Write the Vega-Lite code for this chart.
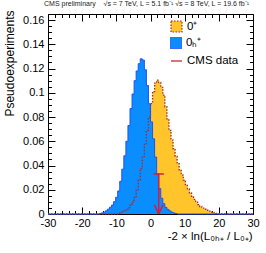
{
  "$schema": "https://vega.github.io/schema/vega-lite/v6.json",
  "width": 205,
  "height": 200,
  "autosize": {"type": "none"},
  "padding": {"left": 48, "top": 14, "right": 13, "bottom": 39},
  "background": "white",
  "config": {"view": {"stroke": null}, "font": "Liberation Sans"},
  "title": {"text": "CMS preliminary \u00a0\u00a0\u00a0√s = 7 TeV, L = 5.1 fb⁻¹ √s = 8 TeV, L = 19.6 fb⁻¹", "fontSize": 7, "font": "Liberation Sans", "fontWeight": "normal", "color": "#222", "anchor": "middle", "offset": 3, "dx": -4},
  "datasets": {
    "hist": [
      {"s": "0⁺", "x": -30, "y": 0},
      {"s": "0⁺", "x": -9.6, "y": 0.0003},
      {"s": "0⁺", "x": -9.0, "y": 0.0008},
      {"s": "0⁺", "x": -8.4, "y": 0.0015},
      {"s": "0⁺", "x": -7.8, "y": 0.0026},
      {"s": "0⁺", "x": -7.2, "y": 0.0038},
      {"s": "0⁺", "x": -6.6, "y": 0.0053},
      {"s": "0⁺", "x": -6.0, "y": 0.0073},
      {"s": "0⁺", "x": -5.4, "y": 0.0098},
      {"s": "0⁺", "x": -4.8, "y": 0.0135},
      {"s": "0⁺", "x": -4.2, "y": 0.0195},
      {"s": "0⁺", "x": -3.6, "y": 0.028},
      {"s": "0⁺", "x": -3.0, "y": 0.0375},
      {"s": "0⁺", "x": -2.4, "y": 0.0475},
      {"s": "0⁺", "x": -1.8, "y": 0.058},
      {"s": "0⁺", "x": -1.2, "y": 0.069},
      {"s": "0⁺", "x": -0.6, "y": 0.08},
      {"s": "0⁺", "x": 0.0, "y": 0.091},
      {"s": "0⁺", "x": 0.6, "y": 0.101},
      {"s": "0⁺", "x": 1.2, "y": 0.108},
      {"s": "0⁺", "x": 1.8, "y": 0.1105},
      {"s": "0⁺", "x": 2.4, "y": 0.1085},
      {"s": "0⁺", "x": 3.0, "y": 0.1045},
      {"s": "0⁺", "x": 3.6, "y": 0.098},
      {"s": "0⁺", "x": 4.2, "y": 0.0885},
      {"s": "0⁺", "x": 4.8, "y": 0.0785},
      {"s": "0⁺", "x": 5.4, "y": 0.069},
      {"s": "0⁺", "x": 6.0, "y": 0.061},
      {"s": "0⁺", "x": 6.6, "y": 0.054},
      {"s": "0⁺", "x": 7.2, "y": 0.0475},
      {"s": "0⁺", "x": 7.8, "y": 0.0415},
      {"s": "0⁺", "x": 8.4, "y": 0.0365},
      {"s": "0⁺", "x": 9.0, "y": 0.032},
      {"s": "0⁺", "x": 9.6, "y": 0.028},
      {"s": "0⁺", "x": 10.2, "y": 0.0242},
      {"s": "0⁺", "x": 10.8, "y": 0.0207},
      {"s": "0⁺", "x": 11.4, "y": 0.0175},
      {"s": "0⁺", "x": 12.0, "y": 0.0146},
      {"s": "0⁺", "x": 12.6, "y": 0.012},
      {"s": "0⁺", "x": 13.2, "y": 0.0097},
      {"s": "0⁺", "x": 13.8, "y": 0.0078},
      {"s": "0⁺", "x": 14.4, "y": 0.0062},
      {"s": "0⁺", "x": 15.0, "y": 0.0049},
      {"s": "0⁺", "x": 15.6, "y": 0.0039},
      {"s": "0⁺", "x": 16.2, "y": 0.0031},
      {"s": "0⁺", "x": 16.8, "y": 0.0024},
      {"s": "0⁺", "x": 17.4, "y": 0.0018},
      {"s": "0⁺", "x": 18.0, "y": 0.0013},
      {"s": "0⁺", "x": 18.6, "y": 0.0009},
      {"s": "0⁺", "x": 19.2, "y": 0.0005},
      {"s": "0⁺", "x": 19.8, "y": 0.0002},
      {"s": "0⁺", "x": 20.4, "y": 0},
      {"s": "0⁺", "x": 30, "y": 0},
      {"s": "0ₕ⁺", "x": -30, "y": 0},
      {"s": "0ₕ⁺", "x": -15.0, "y": 0.0004},
      {"s": "0ₕ⁺", "x": -14.4, "y": 0.0009},
      {"s": "0ₕ⁺", "x": -13.8, "y": 0.0015},
      {"s": "0ₕ⁺", "x": -13.2, "y": 0.0026},
      {"s": "0ₕ⁺", "x": -12.6, "y": 0.004},
      {"s": "0ₕ⁺", "x": -12.0, "y": 0.0056},
      {"s": "0ₕ⁺", "x": -11.4, "y": 0.0074},
      {"s": "0ₕ⁺", "x": -10.8, "y": 0.0102},
      {"s": "0ₕ⁺", "x": -10.2, "y": 0.0138},
      {"s": "0ₕ⁺", "x": -9.6, "y": 0.019},
      {"s": "0ₕ⁺", "x": -9.0, "y": 0.027},
      {"s": "0ₕ⁺", "x": -8.4, "y": 0.037},
      {"s": "0ₕ⁺", "x": -7.8, "y": 0.048},
      {"s": "0ₕ⁺", "x": -7.2, "y": 0.06},
      {"s": "0ₕ⁺", "x": -6.6, "y": 0.073},
      {"s": "0ₕ⁺", "x": -6.0, "y": 0.087},
      {"s": "0ₕ⁺", "x": -5.4, "y": 0.099},
      {"s": "0ₕ⁺", "x": -4.8, "y": 0.11},
      {"s": "0ₕ⁺", "x": -4.2, "y": 0.118},
      {"s": "0ₕ⁺", "x": -3.6, "y": 0.124},
      {"s": "0ₕ⁺", "x": -3.0, "y": 0.128},
      {"s": "0ₕ⁺", "x": -2.4, "y": 0.127},
      {"s": "0ₕ⁺", "x": -1.8, "y": 0.119},
      {"s": "0ₕ⁺", "x": -1.2, "y": 0.106},
      {"s": "0ₕ⁺", "x": -0.6, "y": 0.091},
      {"s": "0ₕ⁺", "x": 0.0, "y": 0.076},
      {"s": "0ₕ⁺", "x": 0.6, "y": 0.062},
      {"s": "0ₕ⁺", "x": 1.2, "y": 0.047},
      {"s": "0ₕ⁺", "x": 1.8, "y": 0.033},
      {"s": "0ₕ⁺", "x": 2.4, "y": 0.021},
      {"s": "0ₕ⁺", "x": 3.0, "y": 0.013},
      {"s": "0ₕ⁺", "x": 3.6, "y": 0.0085},
      {"s": "0ₕ⁺", "x": 4.2, "y": 0.0055},
      {"s": "0ₕ⁺", "x": 4.8, "y": 0.0038},
      {"s": "0ₕ⁺", "x": 5.4, "y": 0.0025},
      {"s": "0ₕ⁺", "x": 6.0, "y": 0.0015},
      {"s": "0ₕ⁺", "x": 6.6, "y": 0.0009},
      {"s": "0ₕ⁺", "x": 7.2, "y": 0.0004},
      {"s": "0ₕ⁺", "x": 7.8, "y": 0},
      {"s": "0ₕ⁺", "x": 30, "y": 0}
    ],
    "arrow": [
      {"s": "CMS data", "x": 2.4, "y": 0.033, "x2": 2.4, "y2": 0},
      {"s": "CMS data", "x": 0.9, "y": 0.033, "x2": 3.9, "y2": 0.033},
      {"s": "CMS data", "x": 1.15, "y": 0.0075, "x2": 2.4, "y2": 0},
      {"s": "CMS data", "x": 3.65, "y": 0.0075, "x2": 2.4, "y2": 0}
    ]
  },
  "layer": [
    {
      "layer": [
        {
          "data": {"name": "hist"},
          "transform": [{"filter": "datum.s === '0⁺'"}],
          "mark": {"type": "area", "interpolate": "step-after", "opacity": 1},
          "encoding": {
            "x": {"field": "x", "type": "quantitative"},
            "y": {"field": "y", "type": "quantitative"},
            "fill": {
              "field": "s", "type": "nominal",
              "scale": {"domain": ["0⁺"], "range": ["#ffc52a"]},
              "legend": {
                "title": null, "orient": "none", "legendX": 122, "legendY": 6, "padding": 0,
                "symbolType": "square", "symbolSize": 121, "symbolFillColor": "#ffc52a", "symbolStrokeColor": "#a52a2a", "symbolStrokeWidth": 1.2, "symbolDash": [1.5, 1.5], "symbolOpacity": 1,
                "labelFontSize": 11.5, "labelFont": "Liberation Sans", "labelColor": "black", "labelOffset": 4
              }
            }
          }
        },
        {
          "data": {"name": "hist"},
          "transform": [{"filter": "datum.s === '0ₕ⁺'"}],
          "mark": {"type": "area", "interpolate": "step-after", "opacity": 1},
          "encoding": {
            "x": {"field": "x", "type": "quantitative"},
            "y": {"field": "y", "type": "quantitative"},
            "color": {
              "field": "s", "type": "nominal",
              "scale": {"domain": ["0ₕ⁺"], "range": ["#0a8dff"]},
              "legend": {
                "title": null, "orient": "none", "legendX": 122, "legendY": 23, "padding": 0,
                "symbolType": "square", "symbolSize": 121, "symbolFillColor": "#0a8dff", "symbolStrokeColor": "#1f4fff", "symbolStrokeWidth": 1, "symbolDash": [1, 0], "symbolOpacity": 1,
                "labelFontSize": 11.5, "labelFont": "Liberation Sans", "labelColor": "black", "labelOffset": 4
              }
            }
          }
        },
        {
          "data": {"name": "hist"},
          "transform": [{"filter": "datum.s === '0⁺'"}],
          "mark": {"type": "line", "interpolate": "step-after", "stroke": "#a52a2a", "strokeWidth": 1.3, "strokeDash": [1.5, 1.5]},
          "encoding": {
            "x": {"field": "x", "type": "quantitative"},
            "y": {"field": "y", "type": "quantitative"}
          }
        },
        {
          "data": {"name": "hist"},
          "transform": [{"filter": "datum.s === '0ₕ⁺'"}],
          "mark": {"type": "line", "interpolate": "step-after", "stroke": "#1f4fff", "strokeWidth": 1},
          "encoding": {
            "x": {"field": "x", "type": "quantitative"},
            "y": {"field": "y", "type": "quantitative"}
          }
        },
        {
          "data": {"name": "arrow"},
          "mark": {"type": "rule", "strokeWidth": 1.5},
          "encoding": {
            "x": {"field": "x", "type": "quantitative"},
            "y": {"field": "y", "type": "quantitative"},
            "x2": {"field": "x2"},
            "y2": {"field": "y2"},
            "stroke": {
              "field": "s", "type": "nominal",
              "scale": {"domain": ["CMS data"], "range": ["#d41f35"]},
              "legend": {
                "title": null, "orient": "none", "legendX": 122, "legendY": 40.5, "padding": 0,
                "symbolType": "stroke", "symbolSize": 121, "symbolStrokeWidth": 1.3, "symbolOpacity": 1,
                "labelFontSize": 11.5, "labelFont": "Liberation Sans", "labelColor": "black", "labelOffset": 4
              }
            }
          }
        }
      ],
      "encoding": {
        "x": {
          "field": "x", "type": "quantitative",
          "scale": {"domain": [-30, 30], "nice": false, "zero": false},
          "axis": {
            "orient": "bottom", "grid": false,
            "values": [-30,-28,-26,-24,-22,-20,-18,-16,-14,-12,-10,-8,-6,-4,-2,0,2,4,6,8,10,12,14,16,18,20,22,24,26,28,30],
            "labelExpr": "datum.value % 10 === 0 ? '' + datum.value : ''",
            "tickSize": {"condition": {"test": "datum.value % 10 === 0", "value": -7}, "value": -3.5},
            "tickColor": "black", "domainColor": "black", "labelColor": "black",
            "labelFont": "Liberation Sans", "labelFontSize": 11, "labelPadding": 10, "labelFlush": false, "labelOverlap": false,
            "title": "-2 × ln(L₀ₕ₊ / L₀₊)", "titleFont": "Liberation Sans", "titleFontSize": 11.5, "titleFontWeight": "normal", "titleColor": "black",
            "titleAnchor": null, "titleAlign": "right", "titleBaseline": "middle", "titleX": 204, "titleY": 22
          }
        },
        "y": {
          "field": "y", "type": "quantitative",
          "scale": {"domain": [0, 0.165], "nice": false},
          "axis": {
            "orient": "left", "grid": false,
            "values": [0,0.005,0.01,0.015,0.02,0.025,0.03,0.035,0.04,0.045,0.05,0.055,0.06,0.065,0.07,0.075,0.08,0.085,0.09,0.095,0.1,0.105,0.11,0.115,0.12,0.125,0.13,0.135,0.14,0.145,0.15,0.155,0.16],
            "labelExpr": "round(datum.value * 1000) % 20 === 0 ? format(datum.value, '.2~f') : ''",
            "tickSize": {"condition": {"test": "round(datum.value * 1000) % 20 === 0", "value": -7}, "value": -3.5},
            "tickColor": "black", "domainColor": "black", "labelColor": "black",
            "labelFont": "Liberation Sans", "labelFontSize": 11, "labelPadding": 11, "labelFlush": false, "labelOverlap": false,
            "title": "Pseudoexperiments", "titleFont": "Liberation Sans", "titleFontSize": 12, "titleFontWeight": "normal", "titleColor": "black",
            "titleAnchor": null, "titleAngle": -90, "titleAlign": "right", "titleBaseline": "middle", "titleX": -39, "titleY": -4
          }
        }
      }
    },
    {
      "data": {"name": "hist"},
      "mark": {"type": "point", "opacity": 0},
      "encoding": {
        "x": {
          "field": "x", "type": "quantitative",
          "axis": {
            "orient": "top", "grid": false, "labels": false, "title": null,
            "values": [-30,-28,-26,-24,-22,-20,-18,-16,-14,-12,-10,-8,-6,-4,-2,0,2,4,6,8,10,12,14,16,18,20,22,24,26,28,30],
            "tickSize": {"condition": {"test": "datum.value % 10 === 0", "value": -7}, "value": -3.5},
            "tickColor": "black", "domainColor": "black"
          }
        },
        "y": {
          "field": "y", "type": "quantitative",
          "axis": {
            "orient": "right", "grid": false, "labels": false, "title": null,
            "values": [0,0.005,0.01,0.015,0.02,0.025,0.03,0.035,0.04,0.045,0.05,0.055,0.06,0.065,0.07,0.075,0.08,0.085,0.09,0.095,0.1,0.105,0.11,0.115,0.12,0.125,0.13,0.135,0.14,0.145,0.15,0.155,0.16],
            "tickSize": {"condition": {"test": "round(datum.value * 1000) % 20 === 0", "value": -7}, "value": -3.5},
            "tickColor": "black", "domainColor": "black"
          }
        }
      }
    }
  ],
  "resolve": {"axis": {"x": "independent", "y": "independent"}}
}
